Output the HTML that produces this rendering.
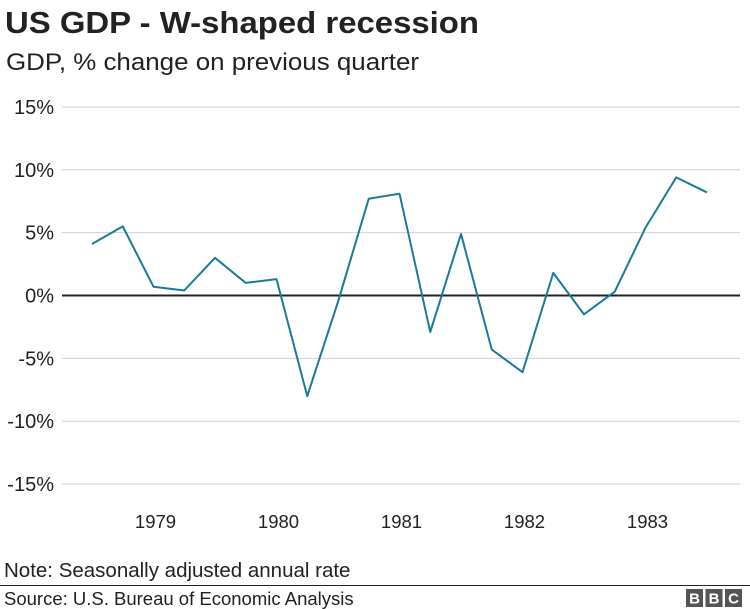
<!DOCTYPE html>
<html><head><meta charset="utf-8"><style>
body{margin:0;background:#fff;width:750px;height:609px;overflow:hidden;font-family:"Liberation Sans",Arial,sans-serif;}
svg{display:block}
</style></head><body>
<svg id="chart" width="750" height="609" xmlns="http://www.w3.org/2000/svg">
<text x="5" y="33" font-size="31" font-weight="bold" fill="#222" textLength="474" lengthAdjust="spacingAndGlyphs">US GDP - W-shaped recession</text>
<text x="6" y="70" font-size="24" fill="#222" textLength="413" lengthAdjust="spacingAndGlyphs">GDP, % change on previous quarter</text>
<g id="grid"></g>
<g id="xlabels"></g>
<path id="line" fill="none" stroke="#1a7a9a" stroke-width="2" stroke-linejoin="round"/>
<text x="4" y="577" font-size="20.5" fill="#222">Note: Seasonally adjusted annual rate</text>
<line x1="0" y1="585.5" x2="750" y2="585.5" stroke="#222" stroke-width="1"/>
<text x="4" y="605" font-size="18.5" fill="#222">Source: U.S. Bureau of Economic Analysis</text>
<g font-size="15" font-weight="bold" fill="#fff">
<rect x="686" y="589" width="17" height="18" fill="#555"/><text x="694.5" y="603.5" text-anchor="middle">B</text>
<rect x="705.5" y="589" width="17" height="18" fill="#555"/><text x="714" y="603.5" text-anchor="middle">B</text>
<rect x="725" y="589" width="17" height="18" fill="#555"/><text x="733.5" y="603.5" text-anchor="middle">C</text>
</g>
</svg>
<script>
const values=[4.1,5.5,0.7,0.4,3.0,1.0,1.3,-8.0,-0.5,7.7,8.1,-2.9,4.9,-4.3,-6.1,1.8,-1.5,0.3,5.4,9.4,8.2];
const yTicks=[15,10,5,0,-5,-10,-15];
const yTickLabels=["15%","10%","5%","0%","-5%","-10%","-15%"];
const yearLabels=["1979","1980","1981","1982","1983"];
const yearIndex=[2,6,10,14,18];
const NS="http://www.w3.org/2000/svg";
function y(v){return 295.5-v*12.57;}
function x(i){return 92+i*30.75;}
const grid=document.getElementById('grid');
yTicks.forEach((t,k)=>{
  const l=document.createElementNS(NS,'line');
  l.setAttribute('x1',62);l.setAttribute('x2',740);
  l.setAttribute('y1',y(t));l.setAttribute('y2',y(t));
  l.setAttribute('stroke',t===0?'#222':'#d0d0d0');
  l.setAttribute('stroke-width',t===0?2:1);
  
  
  grid.appendChild(l);
  const tx=document.createElementNS(NS,'text');
  tx.setAttribute('x',54);tx.setAttribute('y',y(t)+7);
  tx.setAttribute('text-anchor','end');tx.setAttribute('font-size','20');tx.setAttribute('fill','#222');
  tx.textContent=yTickLabels[k];
  
  
  grid.appendChild(tx);
});
const xl=document.getElementById('xlabels');
yearLabels.forEach((lab,k)=>{
  const tx=document.createElementNS(NS,'text');
  tx.setAttribute('x',x(yearIndex[k])+2);tx.setAttribute('y',528);
  tx.setAttribute('text-anchor','middle');tx.setAttribute('font-size','18.5');tx.setAttribute('fill','#222');
  tx.textContent=lab;
  
  
  xl.appendChild(tx);
});
document.getElementById('line').setAttribute('d',values.map((v,i)=>(i?'L':'M')+x(i)+' '+y(v)).join(' '));
</script>
</body></html>
